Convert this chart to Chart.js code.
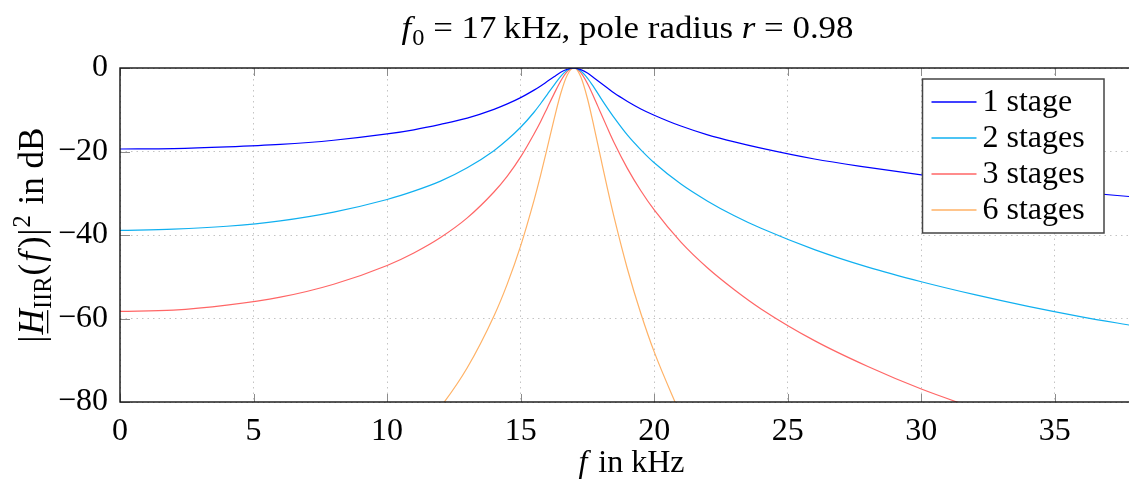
<!DOCTYPE html>
<html>
<head>
<meta charset="utf-8">
<script src="https://cdn.jsdelivr.net/npm/chart.js@4.4.1/dist/chart.umd.min.js"></script>
<style>
  html, body { margin: 0; padding: 0; background: #fff; overflow: hidden; }
  canvas { display: block; }
</style>
</head>
<body>
<canvas id="iirChart" width="1136" height="479"></canvas>
<script>
// frequency grid (kHz) and |H|^2 in dB
const freqKHz = [0, 2, 4, 6, 8, 10, 11, 12, 13, 14, 14.5, 15, 15.5, 15.75, 16, 16.25, 16.5, 16.75, 17,
                 17.25, 17.5, 17.75, 18, 18.25, 18.5, 19, 19.5, 20, 21, 22, 23, 24, 26, 28, 30, 32, 34, 36, 38];

const stage1 = [-19.4, -19.3, -18.9, -18.3, -17.3, -15.8, -14.8, -13.5, -12.0, -9.9, -8.6, -7.1, -5.3, -4.3, -3.2, -2.1, -1.0, -0.3, 0,
                -0.4, -1.2, -2.4, -3.6, -4.8, -6.0, -8.0, -9.8, -11.3, -13.9, -16.0, -17.7, -19.2, -21.8, -23.8, -25.6, -27.2, -28.6, -29.8, -30.9];
const stage2 = [-38.9, -38.6, -37.9, -36.6, -34.5, -31.5, -29.5, -27.1, -23.9, -19.8, -17.2, -14.2, -10.6, -8.5, -6.3, -4.1, -2.0, -0.5, 0,
                -0.7, -2.4, -4.7, -7.2, -9.6, -11.9, -16.1, -19.6, -22.7, -27.8, -31.9, -35.4, -38.4, -43.5, -47.7, -51.2, -54.3, -57.1, -59.6, -61.8];
const stage3 = [-58.3, -58.0, -56.8, -54.9, -51.8, -47.3, -44.3, -40.6, -35.9, -29.7, -25.9, -21.3, -15.8, -12.8, -9.5, -6.2, -3.1, -0.8, 0,
                -1.1, -3.7, -7.1, -10.8, -14.4, -17.9, -24.1, -29.4, -34.0, -41.7, -47.9, -53.1, -57.7, -65.3, -71.5, -76.9, -81.5, null, null, null];
const stage6 = [null, null, null, null, null, null, -88.6, -81.2, -71.8, -59.4, -51.7, -42.6, -31.7, -25.6, -19.0, -12.3, -6.1, -1.6, 0,
                -2.1, -7.3, -14.2, -21.6, -28.9, -35.8, -48.2, -58.8, -68.0, -83.3, null, null, null, null, null, null, null, null, null, null];

const seriesLabels = ['1 stage', '2 stages', '3 stages', '6 stages'];
const seriesColors = ['rgb(0,0,255)', 'rgb(16,176,240)', 'rgb(255,102,102)', 'rgb(255,178,102)'];

const xTicks = [0, 5, 10, 15, 20, 25, 30, 35];
const yTicks = [0, -20, -40, -60, -80];

const SERIF = '"Liberation Serif", "Times New Roman", serif';
const FONT_SIZE = 32;

function toPoints(values) {
    return freqKHz.map((f, i) => ({ x: f, y: values[i] }));
}

function fmtNum(v) {
    return v < 0 ? '\u2212' + Math.abs(v) : String(v);
}

// rich text helpers: parts are {t, italic, sub, sup, underline, gap}
function partFont(p, size) {
    const s = (p.sub || p.sup) ? size * 0.7 : size;
    return (p.italic ? 'italic ' : '') + s + 'px ' + SERIF;
}
function richWidth(ctx, parts, size) {
    let w = 0;
    parts.forEach(p => { ctx.font = partFont(p, size); w += ctx.measureText(p.t).width + (p.gap || 0); });
    return w;
}
// draws with left edge x and baseline y, stretched horizontally by sx
function drawRich(ctx, parts, x, y, size, sx) {
    ctx.save();
    ctx.translate(x, y);
    ctx.scale(sx, 1);
    let cx = 0;
    parts.forEach(p => {
        ctx.font = partFont(p, size);
        const w = ctx.measureText(p.t).width;
        const dy = p.sub ? size * 0.22 : (p.sup ? -size * 0.38 : 0);
        ctx.fillText(p.t, cx, dy);
        if (p.underline) ctx.fillRect(cx + 1, 4, w - 2, 1.3);
        cx += w + (p.gap || 0);
    });
    ctx.restore();
}

const titleParts = [
    { t: 'f', italic: true, gap: 1 }, { t: '0', sub: true },
    { t: ' = 17\u2009kHz, pole radius ' }, { t: 'r', italic: true }, { t: ' = 0.98' }
];
const xLabelParts = [{ t: 'f', italic: true, gap: 3 }, { t: ' in kHz' }];
const yLabelParts = [
    { t: '|', gap: 1 }, { t: 'H', italic: true, underline: true }, { t: 'IIR', sub: true, gap: 1 },
    { t: '(', gap: 2 }, { t: 'f', italic: true, gap: 4 }, { t: ')', gap: 1 }, { t: '|', gap: 1 },
    { t: '2', sup: true, gap: 2 }, { t: ' in dB' }
];

const decorations = {
    id: 'decorations',
    afterDatasetsDraw(chart) {
        const ctx = chart.ctx;
        const a = chart.chartArea;
        const xs = chart.scales.x, ys = chart.scales.y;
        ctx.save();
        // small inner tick marks
        ctx.strokeStyle = '#8c8c8c';
        ctx.lineWidth = 1;
        xTicks.forEach(v => {
            const px = Math.round(xs.getPixelForValue(v)) + 0.5;
            ctx.beginPath();
            ctx.moveTo(px, a.bottom); ctx.lineTo(px, a.bottom - 8);
            ctx.moveTo(px, a.top); ctx.lineTo(px, a.top + 8);
            ctx.stroke();
        });
        yTicks.forEach(v => {
            const py = Math.round(ys.getPixelForValue(v)) + 0.5;
            ctx.beginPath();
            ctx.moveTo(a.left, py); ctx.lineTo(a.left + 10, py);
            ctx.stroke();
        });
        // axis frame
        ctx.strokeStyle = '#111';
        ctx.lineWidth = 1.4;
        ctx.strokeRect(a.left, a.top, a.right - a.left, a.bottom - a.top);
        ctx.restore();
    },
    afterDraw(chart) {
        const ctx = chart.ctx;
        const a = chart.chartArea;
        const cx = (a.left + a.right) / 2;
        ctx.save();
        ctx.fillStyle = '#000';
        ctx.textBaseline = 'alphabetic';
        ctx.textAlign = 'left';

        // title
        const tsx = 1.09;
        drawRich(ctx, titleParts, cx - richWidth(ctx, titleParts, FONT_SIZE) * tsx / 2, 38, FONT_SIZE, tsx);
        // x axis label
        drawRich(ctx, xLabelParts, cx + 4 - richWidth(ctx, xLabelParts, FONT_SIZE) / 2, 472, FONT_SIZE, 1);
        // y axis label, rotated
        const ySize = 35;
        ctx.save();
        ctx.translate(43, (a.top + a.bottom) / 2);
        ctx.rotate(-Math.PI / 2);
        drawRich(ctx, yLabelParts, -richWidth(ctx, yLabelParts, ySize) / 2, 0, ySize, 1);
        ctx.restore();

        // legend box in the upper right corner
        const bx = a.left + 802.5, by = a.top + 11, bw = 181.5, bh = 154;
        ctx.fillStyle = '#fff';
        ctx.fillRect(bx, by, bw, bh);
        ctx.strokeStyle = '#444';
        ctx.lineWidth = 1.5;
        ctx.strokeRect(bx, by, bw, bh);
        chart.data.datasets.forEach((ds, i) => {
            const ry = by + 23 + i * 36;
            ctx.strokeStyle = ds.borderColor;
            ctx.lineWidth = 1.3;
            ctx.beginPath();
            ctx.moveTo(bx + 9, ry); ctx.lineTo(bx + 54, ry);
            ctx.stroke();
            ctx.fillStyle = '#000';
            ctx.font = FONT_SIZE + 'px ' + SERIF;
            ctx.textBaseline = 'middle';
            ctx.fillText(ds.label, bx + 60, ry + 1);
        });
        ctx.restore();
    }
};

const datasets = [stage1, stage2, stage3, stage6].map((vals, i) => ({
    label: seriesLabels[i],
    data: toPoints(vals),
    borderColor: seriesColors[i],
    backgroundColor: seriesColors[i],
    borderWidth: 1.2,
    pointRadius: 0,
    fill: false,
    spanGaps: false,
    cubicInterpolationMode: 'monotone'
}));

new Chart(document.getElementById('iirChart'), {
    type: 'line',
    data: { datasets: datasets },
    options: {
        responsive: false,
        animation: false,
        events: [],
        layout: { padding: { top: 68, right: 1, bottom: 0, left: 0 } },
        plugins: {
            legend: { display: false },
            title: { display: false },
            tooltip: { enabled: false }
        },
        scales: {
            x: {
                type: 'linear',
                min: 0,
                max: 38,
                afterBuildTicks: scale => { scale.ticks = xTicks.map(v => ({ value: v })); },
                afterFit: scale => { scale.height = 77; },
                grid: { color: '#c4c4c4', lineWidth: 1, drawTicks: false },
                border: { display: false, dash: [1.5, 4] },
                ticks: {
                    padding: 10,
                    color: '#000',
                    maxRotation: 0,
                    font: { family: SERIF, size: FONT_SIZE },
                    callback: v => fmtNum(v)
                }
            },
            y: {
                min: -80,
                max: 0,
                afterBuildTicks: scale => { scale.ticks = yTicks.map(v => ({ value: v })); },
                afterFit: scale => { scale.width = 120; },
                grid: { color: '#c4c4c4', lineWidth: 1, drawTicks: false },
                border: { display: false, dash: [1.5, 4] },
                ticks: {
                    padding: 12,
                    color: '#000',
                    font: { family: SERIF, size: FONT_SIZE },
                    callback: v => fmtNum(v)
                }
            }
        }
    },
    plugins: [decorations]
});
</script>
</body>
</html>
